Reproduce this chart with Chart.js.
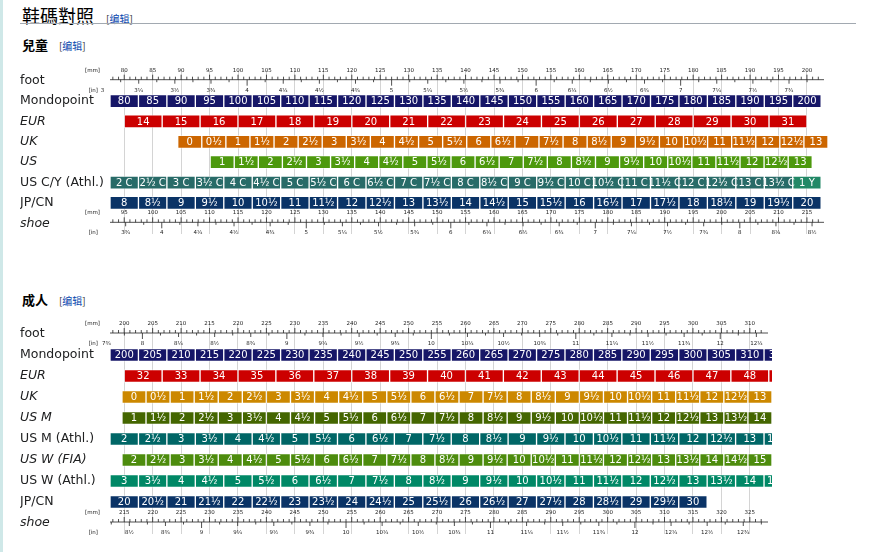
<!DOCTYPE html>
<html>
<head>
<meta charset="utf-8">
<script src="https://cdn.jsdelivr.net/npm/chart.js@4"></script>
<style>
body { margin:0; width:873px; height:552px; background:#fff; font-family:"DejaVu Sans",sans-serif; position:relative; overflow:hidden; }
.side { position:absolute; left:0; top:0; width:3px; height:552px; background:#cfe8e8; }
h2 { position:absolute; left:22px; top:2px; margin:0; font-weight:normal; font-size:18px; font-family:"Noto Sans CJK TC",sans-serif; color:#000; }
h3 { position:absolute; left:22px; margin:0; font-size:13px; font-family:"Noto Sans CJK TC",sans-serif; }
.ed { font-size:10px; color:#333; font-weight:normal; margin-left:8px; }
.ed b { color:#0645ad; font-weight:normal; }
.rule { position:absolute; left:20px; top:23px; width:836px; height:1px; background:#a2a9b1; }
canvas { position:absolute; }
</style>
</head>
<body>
<div class="side"></div>
<h2>鞋碼對照 <span class="ed">[<b>编辑</b>]</span></h2>
<div class="rule"></div>
<h3 style="top:35px">兒童 <span class="ed">[<b>编辑</b>]</span></h3>
<h3 style="top:290px">成人 <span class="ed">[<b>编辑</b>]</span></h3>
<div style="position:absolute;left:20px;top:63px;width:808px;height:178px"><canvas id="kids"></canvas></div>
<div style="position:absolute;left:20px;top:316px;width:752px;height:225px"><canvas id="adults"></canvas></div>
<script>
// size labels
function halves(from, to, suffix) {
    var out = [];
    for (var v = from; v <= to; v += 0.5) {
        var whole = Math.floor(v);
        var s = (v % 1 ? (whole === 0 ? '0' : whole) + '½' : String(whole));
        out.push(s + (suffix || ''));
    }
    return out;
}

// Children
const kidRows = ['foot', 'Mondopoint', 'EUR', 'UK', 'US', 'US C/Y (Athl.)', 'JP/CN', 'shoe'];
const kidMondo = ['80','85','90','95','100','105','110','115','120','125','130','135','140','145','150','155','160','165','170','175','180','185','190','195','200'];
const kidEur = ['14','15','16','17','18','19','20','21','22','23','24','25','26','27','28','29','30','31'];
const kidUK = halves(0, 13);
const kidUS = halves(1, 13);
const kidCY = halves(2, 13.5, ' C').concat(['1 Y']);
const kidJP = halves(8, 20);

// Adults
const adultRows = ['foot', 'Mondopoint', 'EUR', 'UK', 'US M', 'US M (Athl.)', 'US W (FIA)', 'US W (Athl.)', 'JP/CN', 'shoe'];
const adultMondo = ['200','205','210','215','220','225','230','235','240','245','250','255','260','265','270','275','280','285','290','295','300','305','310','315'];
const adultEur = ['32','33','34','35','36','37','38','39','40','41','42','43','44','45','46','47','48','49'];
const adultUK = halves(0, 13);
const adultUSM = halves(1, 14);
const adultUSMA = halves(2, 13.5);
const adultUSWF = halves(2, 15);
const adultUSWA = halves(3, 14.5);
const adultJP = halves(20, 30);

const MM5 = 5, EURW = 20 / 3, INCH6 = 25.4 / 6;

function row(label, texts, start, width, color) {
    return {
        label: label,
        data: texts.map((t, i) => ({ y: label, x: [start + i * width, start + (i + 1) * width], t: t })),
        backgroundColor: color,
        borderColor: 'rgba(255,255,255,0.45)',
        borderWidth: 1,
        borderSkipped: false,
        barThickness: 13,
        grouped: false
    };
}

const italic = ['EUR', 'UK', 'US', 'US M', 'US W (FIA)', 'shoe'];

function frac(v) {
    var q = Math.round(v * 4), w = Math.floor(q / 4), r = q % 4;
    return w + ['', '¼', '½', '¾'][r];
}

const cellText = {
    id: 'cellText',
    afterDatasetsDraw(chart) {
        const ctx = chart.ctx, a = chart.chartArea;
        ctx.save();
        ctx.beginPath(); ctx.rect(a.left, a.top, a.right - a.left, a.bottom - a.top); ctx.clip();
        ctx.fillStyle = '#fff';
        ctx.font = '10px "DejaVu Sans"';
        ctx.textAlign = 'center';
        ctx.textBaseline = 'middle';
        chart.data.datasets.forEach((ds, di) => {
            chart.getDatasetMeta(di).data.forEach((el, i) => {
                ctx.fillText(ds.data[i].t, (el.x + el.base) / 2, el.y + 0.5);
            });
        });
        ctx.restore();
    }
};

// rulers on the foot and shoe rows
const ruler = {
    id: 'ruler',
    afterDatasetsDraw(chart) {
        const ctx = chart.ctx, x = chart.scales.x, y = chart.scales.y, a = chart.chartArea;
        const rows = chart.data.labels;
        [['foot', 0], ['shoe', 15]].forEach(([name, off]) => {
            const yc = y.getPixelForValue(rows.indexOf(name));
            const ly = yc - 1;
            ctx.save();
            ctx.strokeStyle = '#222'; ctx.fillStyle = '#222'; ctx.lineWidth = 0.8;
            ctx.beginPath(); ctx.moveTo(a.left, ly); ctx.lineTo(a.right - 4, ly); ctx.stroke();
            ctx.font = '5.5px "DejaVu Sans"'; ctx.textAlign = 'center';
            for (let mm = Math.ceil(x.min); mm <= x.max - 1; mm++) {
                const px = x.getPixelForValue(mm);
                if (px > a.right - 4) break;
                const h = mm % 5 === 0 ? 5 : 3;
                ctx.beginPath(); ctx.moveTo(px, ly); ctx.lineTo(px, ly - h); ctx.stroke();
                if (mm % 5 === 0) ctx.fillText(String(mm + off), px, ly - 8);
            }
            const i0 = Math.ceil((x.min + off) / 25.4 * 8), i1 = Math.floor((x.max + off) / 25.4 * 8);
            for (let k = i0 - 2; k <= i1; k++) {
                const px = x.getPixelForValue(k / 8 * 25.4 - off);
                if (px > a.right - 4) break;
                if (px >= a.left) {
                    const h = k % 8 === 0 ? 6 : (k % 2 === 0 ? 4 : 2.5);
                    ctx.beginPath(); ctx.moveTo(px, ly); ctx.lineTo(px, ly + h); ctx.stroke();
                }
                if (k % 2 === 0 && px >= a.left - 12) ctx.fillText(frac(k / 8), px, ly + 12);
            }
            ctx.textAlign = 'right';
            ctx.fillText('[mm]', a.left - 10, ly - 8);
            ctx.fillText('[in]', a.left - 12, ly + 12);
            ctx.restore();
        });
    }
};

function makeChart(id, rows, datasets, min, max) {
    return new Chart(document.getElementById(id), {
        type: 'bar',
        data: { labels: rows, datasets: datasets },
        plugins: [cellText, ruler],
        options: {
            indexAxis: 'y',
            responsive: true,
            maintainAspectRatio: false,
            animation: false,
            layout: { padding: 0 },
            plugins: { legend: { display: false }, tooltip: { enabled: false } },
            scales: {
                x: {
                    type: 'linear', min: min, max: max,
                    afterBuildTicks(s) {
                        const t = [];
                        for (let v = Math.ceil(min / 5) * 5; v <= max; v += 5) t.push({ value: v });
                        s.ticks = t;
                    },
                    ticks: { display: false },
                    grid: { color: '#d4d4d4', drawTicks: false },
                    border: { display: false }
                },
                y: {
                    type: 'category',
                    afterFit(s) { s.width = 90; },
                    grid: { display: false },
                    border: { display: false },
                    ticks: {
                        crossAlign: 'far',
                        color: '#202122',
                        padding: 0,
                        font: (c) => ({ family: 'DejaVu Sans', size: 12.5, style: italic.includes(rows[c.index]) ? 'italic' : 'normal' })
                    }
                }
            }
        }
    });
}

makeChart('kids', kidRows, [
    row('Mondopoint', kidMondo, 77.5, MM5, '#161667'),
    row('EUR', kidEur, 80, EURW, '#cc0000'),
    row('UK', kidUK, 89.4, INCH6, '#cc6600'),
    row('US', kidUS, 95.1, INCH6, '#4d990d'),
    row('US C/Y (Athl.)', kidCY.slice(0, 24), 77.5, MM5, '#286b68'),
    row('US C/Y (Athl.)', kidCY.slice(24), 197.5, MM5, '#228866'),
    row('JP/CN', kidJP, 77.5, MM5, '#0a3366')
], 77.5, 203.7);

makeChart('adults', adultRows, [
    row('Mondopoint', adultMondo, 197.5, MM5, '#161667'),
    row('EUR', adultEur, 200, EURW, '#cc0000'),
    row('UK', adultUK, 199.6, INCH6, '#cc8800'),
    row('US M', adultUSM, 199.6, INCH6, '#446600'),
    row('US M (Athl.)', adultUSMA, 197.5, MM5, '#006666'),
    row('US W (FIA)', adultUSWF, 199.6, INCH6, '#4d8c0d'),
    row('US W (Athl.)', adultUSWA, 197.5, MM5, '#008866'),
    row('JP/CN', adultJP, 197.5, MM5, '#0a3366')
], 197.5, 313.9);
</script>
</body>
</html>
